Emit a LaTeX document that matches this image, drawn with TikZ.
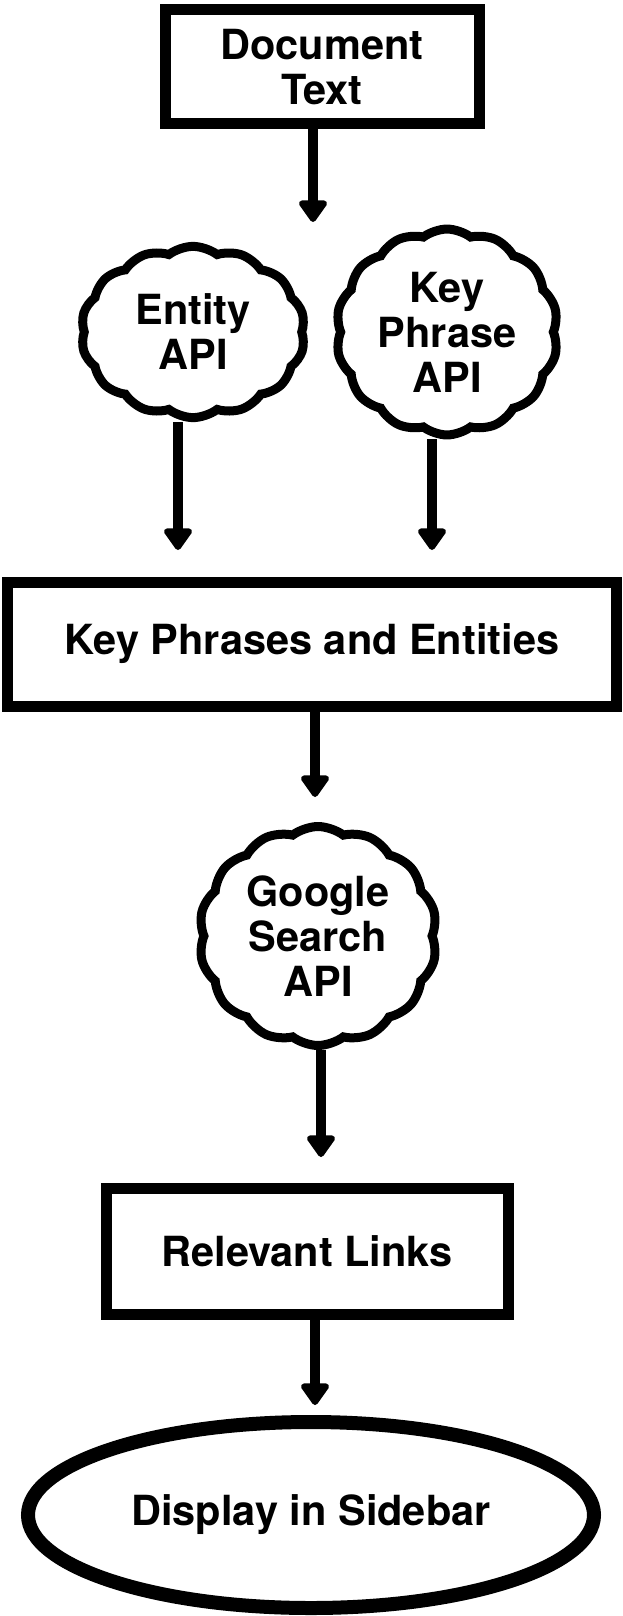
\documentclass[tikz,border=0pt]{standalone}
\usepackage{fontspec}
\setmainfont{TeX Gyre Heros}
\usetikzlibrary{shapes.symbols,shapes.geometric,arrows.meta}

\begin{document}
\begin{tikzpicture}[x=1pt, y=-1pt,
    box/.style = {draw, line width=11pt, rectangle, align=center, inner sep=0pt},
    puff/.style = {draw, line width=9pt, cloud, cloud puffs=14, cloud puff arc=75, align=center, inner sep=0pt},
    flow/.style = {line width=10pt, -{Triangle[round, length=24pt, width=32pt]}},
    txt/.style = {font=\fontsize{41.5}{45}\selectfont\bfseries}]
            \useasboundingbox (0,0) rectangle (623,1616);
            \node[box, txt, minimum width=314pt, minimum height=114pt] (doc) at (322, 67) {Document\\Text};
            \node[puff, txt, minimum width=224pt, minimum height=168pt] (ent) at (193, 332) {Entity\\API};
            \node[puff, txt, minimum width=222pt, minimum height=166pt] (kp) at (447, 332) {Key\\Phrase\\API};
            \node[box, txt, minimum width=609pt, minimum height=124pt] (kpe) at (312, 644) {Key Phrases and Entities};
            \node[puff, txt, minimum width=238pt, minimum height=219pt] (gs) at (318, 936) {Google\\Search\\API};
            \node[box, txt, minimum width=402pt, minimum height=126pt] (links) at (307, 1251) {Relevant Links};
            \node[draw, ellipse, line width=14pt, txt, minimum width=566pt, minimum height=186pt] (side) at (311, 1515) {Display in Sidebar};
            \coordinate (t1) at (313, 222);
            \coordinate (t2) at (178, 550);
            \coordinate (t3) at (432, 550);
            \coordinate (t4) at (315, 797);
            \coordinate (t5) at (321, 1157);
            \coordinate (t6) at (315, 1405);
            \draw[flow] (t1 |- doc.south) -- (t1);
            \draw[flow] (t2 |- ent.south) -- (t2);
            \draw[flow] (t3 |- kp.south) -- (t3);
            \draw[flow] (t4 |- kpe.south) -- (t4);
            \draw[flow] (t5 |- gs.south) -- (t5);
            \draw[flow] (t6 |- links.south) -- (t6);
        \end{tikzpicture}
\end{document}
